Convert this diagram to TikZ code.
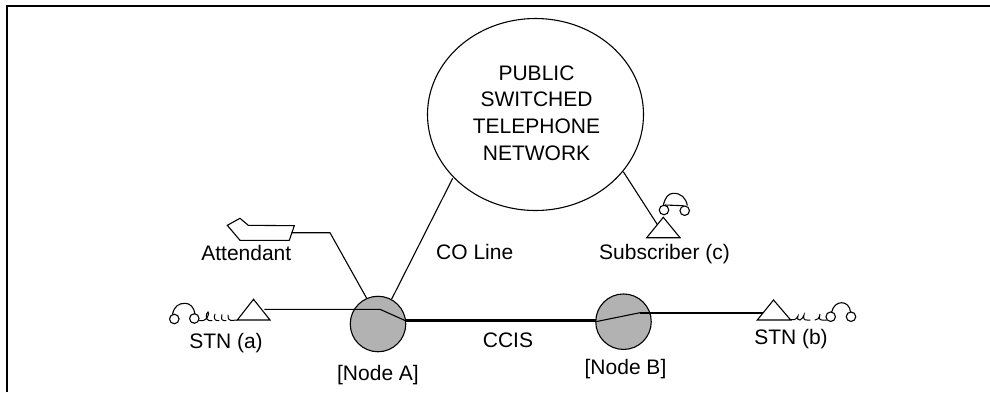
\documentclass[tikz,border=0pt]{standalone}
\usepackage{fontspec}
\setmainfont{Liberation Sans}
\usetikzlibrary{shapes.geometric}
\tikzset{
  thinline/.style={line width=1.1pt,line join=round},
  hub/.style={circle,draw,fill=black!30,line width=1.1pt,inner sep=0pt,minimum size=55.5pt},
  lbl/.style={inner sep=0pt,text height=15pt,text depth=0pt,font=\fontsize{21}{26.7}\selectfont,text=black},
  telset/.style={draw,line width=1.1pt,line join=miter},
  ear/.style={circle,draw,line width=1.1pt,inner sep=0pt,minimum size=9.5pt},
  coil/.style={line width=1pt,line cap=round}
}
\begin{document}
\begin{tikzpicture}[x=1pt,y=-1pt]
\useasboundingbox (0,0) rectangle (990,392);
\fill[white] (0,0) rectangle (990,392);
% frame
\draw[line width=2.2pt] (7,392) -- (7,6) -- (990,6);
% network
\node[ellipse,draw,line width=1.1pt,minimum width=216pt,minimum height=192pt,inner sep=0pt] (pstn) at (535.5,114.5) {};
\node[inner sep=0pt,align=center,font=\fontsize{21}{26.7}\selectfont,text=black] (pstntext) at (536.5,113) {PUBLIC\\SWITCHED\\TELEPHONE\\NETWORK};
% hubs
\node[hub] (nodeA) at (378,324) {};
\node[hub] (nodeB) at (623.5,321.7) {};
% triangles
\coordinate (aL) at (237.3,320); \coordinate (aT) at (253.5,299.3); \coordinate (aR) at (270,320);
\coordinate (bL) at (757.3,320); \coordinate (bT) at (773.5,300); \coordinate (bR) at (790.7,320);
\coordinate (cL) at (646.7,237.7); \coordinate (cT) at (663.3,217.3); \coordinate (cR) at (680,237.7);
\draw[telset] (aL) -- (aT) -- (aR) -- cycle;
\draw[telset] (bL) -- (bT) -- (bR) -- cycle;
\draw[telset] (cL) -- (cT) -- (cR) -- cycle;
% attendant console
\draw[telset] (227.3,225.3) -- (240,218.3) -- (248.3,225.3) -- (294.3,225.7) -- (289.3,240.3) -- (240,240.3) -- cycle;
% connector points
\coordinate (attEnd) at (291.7,232.7);
\coordinate (attBend) at (330,232.7);
\coordinate (attHub) at (366.7,298.3);
\coordinate (coHub) at (391.7,299);
\coordinate (coNet) at (452.7,178.3);
\coordinate (subNet) at (623.3,171.7);
\coordinate (subEnd) at (657.3,224.5);
\coordinate (aEnd) at (264.3,309.3);
\coordinate (aBend) at (380,309.3);
\coordinate (aOut) at (405.5,320.7);
\coordinate (bIn) at (595.7,321.7);
\coordinate (bBend) at (640,312.7);
\coordinate (bEnd) at (763.3,312.7);
% connectors
\draw[thinline] (attEnd) -- (attBend) -- (attHub);
\draw[thinline] (coHub) -- (coNet);
\draw[thinline] (subNet) -- (subEnd);
\draw[thinline] (aEnd) -- (aBend) -- (aOut);
\draw[line width=3pt] (aOut) -- (bIn |- aOut);
\draw[thinline] (bIn) -- (bBend);
\draw[line width=2pt] (bBend) -- (bEnd);
% handset a
\node[ear] (a1) at (174.3,319) {};
\node[ear] (a2) at (194.3,318.5) {};
\draw[thinline] (172.5,314.5) .. controls (174,306) and (179,303.3) .. (185,303.3) .. controls (190,303.3) and (194,307) .. (195,314);
\draw[coil] (199.5,320.5) .. controls (203,321) and (205,320.5) .. (207,318) .. controls (209,314) and (209,312) .. (208,312) .. controls (206,313) and (205,320) .. (209,320.5) -- (212,320.5);
\draw[coil] (215,314) .. controls (214,317) and (214,320.5) .. (217,320.5) -- (219,320.5);
\draw[coil] (222,314.5) .. controls (221,317) and (221,320.5) .. (224,320.5) -- (226,320.5);
\draw[coil] (228,315) .. controls (228,318) and (228,320.5) .. (231,320.5) -- (237,320);
% handset b
\node[ear] (b1) at (830.7,316.7) {};
\node[ear] (b2) at (851,316.7) {};
\draw[thinline] (831.5,312.5) .. controls (833,306) and (837,302.7) .. (841.7,302.7) .. controls (846,302.7) and (850,306) .. (850.5,312);
\draw[coil] (790.7,319.5) .. controls (793,320.5) and (796,320) .. (798,316) .. controls (797,319) and (798,320.5) .. (800,320) .. controls (802,319.5) and (803,317) .. (804,315) .. controls (803,318) and (804,320.5) .. (807,320) -- (810,320);
\draw[coil] (815,320) .. controls (818,320.5) and (819,318) .. (820,314) .. controls (819,318) and (819,320) .. (822,320) -- (826.5,320);
% handset c
\node[ear] (c1) at (664,210) {};
\node[ear] (c2) at (684.7,210.7) {};
\draw[thinline] (663.3,205.3) .. controls (665,198) and (668,193.5) .. (673,193.3) .. controls (681,193) and (686,198) .. (687.3,205.5);
\draw[thinline] (665,205) -- (683.5,205.7);
% labels
\node[lbl] (attlbl) at (246.3,252.7) {Attendant};
\node[lbl] (stna) at (226,340.7) {STN (a)};
\node[lbl] (lblA) at (378,373.3) {[Node A]};
\node[lbl] (coline) at (474.7,251.7) {CO Line};
\node[lbl] (ccis) at (508,340) {CCIS};
\node[lbl] (subc) at (664.5,252.3) {Subscriber (c)};
\node[lbl] (lblB) at (625.5,366.7) {[Node B]};
\node[lbl] (stnb) at (791,336.7) {STN (b)};
\end{tikzpicture}
\end{document}
